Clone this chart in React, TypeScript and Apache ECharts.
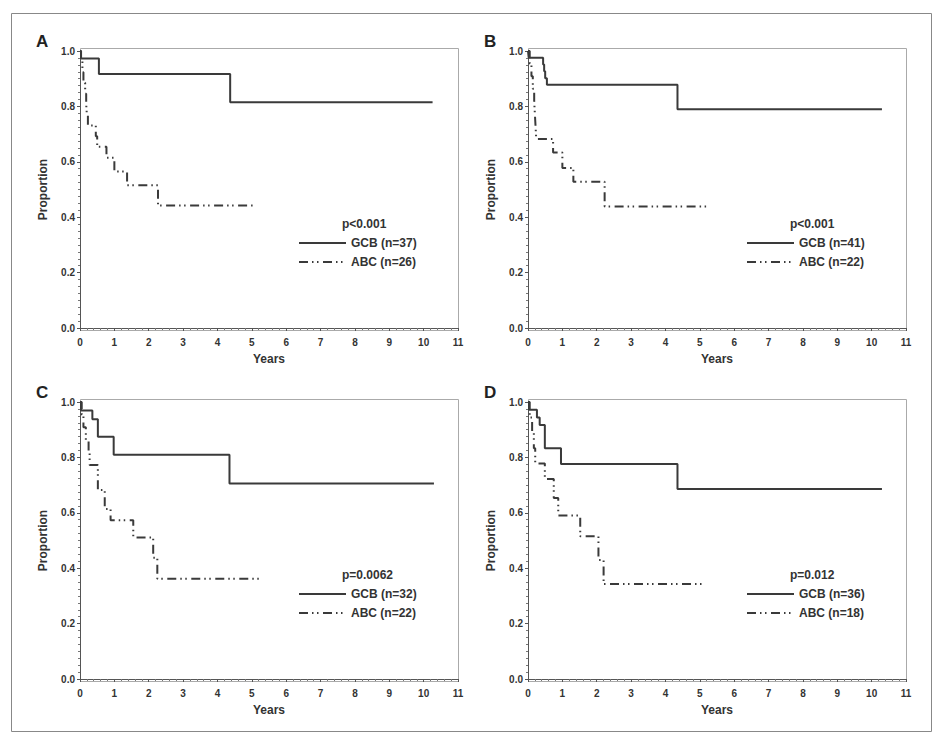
import React, { useEffect, useRef } from "react";
import * as echarts from "echarts";

// ---- data ----
const panelLetters = ["A", "B", "C", "D"];
const pValues = ["p<0.001", "p<0.001", "p=0.0062", "p=0.012"];
const gcbLabels = ["GCB (n=37)", "GCB (n=41)", "GCB (n=32)", "GCB (n=36)"];
const abcLabels = ["ABC (n=26)", "ABC (n=22)", "ABC (n=22)", "ABC (n=18)"];
const xTicks = [0, 1, 2, 3, 4, 5, 6, 7, 8, 9, 10, 11];
const yTicks = [0.0, 0.2, 0.4, 0.6, 0.8, 1.0];

const gcbA_t = [0, 0.03, 0.55, 4.37, 10.26];
const gcbA_s = [1, 0.973, 0.917, 0.815, 0.815];
const abcA_t = [0, 0.03, 0.07, 0.1, 0.15, 0.18, 0.2, 0.23, 0.46, 0.5, 0.77, 1.0, 1.37, 2.27, 5.1];
const abcA_s = [1, 0.962, 0.923, 0.885, 0.846, 0.808, 0.769, 0.731, 0.692, 0.654, 0.615, 0.565, 0.515, 0.442, 0.442];

const gcbB_t = [0, 0.02, 0.44, 0.47, 0.5, 0.55, 4.35, 10.3];
const gcbB_s = [1, 0.976, 0.951, 0.927, 0.902, 0.878, 0.79, 0.79];
const abcB_t = [0, 0.05, 0.1, 0.14, 0.18, 0.2, 0.22, 0.24, 0.73, 1.0, 1.32, 2.23, 5.19];
const abcB_s = [1, 0.955, 0.909, 0.864, 0.818, 0.773, 0.727, 0.682, 0.634, 0.578, 0.528, 0.439, 0.439];

const gcbC_t = [0, 0.03, 0.36, 0.52, 0.98, 4.35, 10.3];
const gcbC_s = [1, 0.969, 0.938, 0.875, 0.81, 0.706, 0.706];
const abcC_t = [0, 0.05, 0.1, 0.17, 0.25, 0.28, 0.52, 0.72, 0.89, 1.55, 2.13, 2.25, 5.22];
const abcC_s = [1, 0.955, 0.909, 0.864, 0.818, 0.773, 0.682, 0.614, 0.573, 0.511, 0.438, 0.362, 0.362];

const gcbD_t = [0, 0.03, 0.26, 0.34, 0.49, 0.96, 4.35, 10.3];
const gcbD_s = [1, 0.972, 0.944, 0.917, 0.833, 0.776, 0.686, 0.686];
const abcD_t = [0, 0.05, 0.12, 0.17, 0.21, 0.49, 0.75, 0.88, 1.52, 2.05, 2.2, 5.06];
const abcD_s = [1, 0.944, 0.889, 0.833, 0.778, 0.722, 0.653, 0.59, 0.515, 0.43, 0.343, 0.343];

const gcbT = [gcbA_t, gcbB_t, gcbC_t, gcbD_t];
const gcbS = [gcbA_s, gcbB_s, gcbC_s, gcbD_s];
const abcT = [abcA_t, abcB_t, abcC_t, abcD_t];
const abcS = [abcA_s, abcB_s, abcC_s, abcD_s];

// ---- layout ----
const FONT = "'Liberation Sans', Arial, sans-serif";
const INK = "#333333";
const CURVE = "#3a3a3a";
const ABC_DASH = [9, 4, 1.5, 3.5, 1.5, 4.5];
const GRIDS = [
  { left: 80, top: 51, width: 378, height: 277 },
  { left: 528, top: 51, width: 378, height: 277 },
  { left: 80, top: 402, width: 378, height: 277 },
  { left: 528, top: 402, width: 378, height: 277 },
];
const AXIS_OFFSET = 3;

function pairs(t: number[], s: number[]) {
  return t.map((v, i) => [v, s[i]]);
}

export default function App() {
  const ref = useRef<HTMLDivElement>(null);
  useEffect(() => {
    document.body.style.margin = "0";
    if (!ref.current) return;
    const chart = echarts.init(ref.current, null, { renderer: "svg" });

    const grid = GRIDS.map((g) => ({ ...g, containLabel: false }));
    const xAxis = GRIDS.map((_, i) => ({
      type: "value",
      gridIndex: i,
      min: xTicks[0],
      max: xTicks[xTicks.length - 1],
      interval: 1,
      offset: AXIS_OFFSET,
      axisLine: { show: true, lineStyle: { color: "#555", width: 1 } },
      axisTick: { show: true, length: 3, lineStyle: { color: "#555" } },
      minorTick: { show: true, splitNumber: 5, length: 2, lineStyle: { color: "#777" } },
      splitLine: { show: false },
      axisLabel: {
        margin: 6,
        color: INK,
        fontFamily: FONT,
        fontWeight: "bold",
        fontSize: 10,
      },
    }));
    const yAxis = GRIDS.map((_, i) => ({
      type: "value",
      gridIndex: i,
      min: yTicks[0],
      max: yTicks[yTicks.length - 1],
      interval: 0.2,
      axisLine: { show: true, lineStyle: { color: "#555", width: 1 } },
      axisTick: { show: true, length: 3, lineStyle: { color: "#555" } },
      minorTick: { show: true, splitNumber: 8, length: 2, lineStyle: { color: "#777" } },
      splitLine: { show: false },
      axisLabel: {
        margin: 5,
        color: INK,
        fontFamily: FONT,
        fontWeight: "bold",
        fontSize: 10,
        formatter: (v: number) => v.toFixed(1),
      },
    }));

    const series: any[] = [];
    for (let i = 0; i < 4; i++) {
      series.push({
        type: "line",
        xAxisIndex: i,
        yAxisIndex: i,
        step: "end",
        showSymbol: false,
        symbol: "none",
        data: pairs(gcbT[i], gcbS[i]),
        lineStyle: { color: CURVE, width: 2 },
        z: 3,
      });
      series.push({
        type: "line",
        xAxisIndex: i,
        yAxisIndex: i,
        step: "end",
        showSymbol: false,
        symbol: "none",
        data: pairs(abcT[i], abcS[i]),
        lineStyle: { color: CURVE, width: 2, type: ABC_DASH },
        z: 3,
      });
    }

    const graphic: any[] = [
      {
        type: "rect",
        z: -10,
        shape: { x: 11.5, y: 13.5, width: 920, height: 718 },
        style: { fill: "none", stroke: "#888", lineWidth: 1 },
      },
    ];
    GRIDS.forEach((g, i) => {
      const dx = g.left - 80;
      const dy = g.top - 51;
      graphic.push({
        type: "rect",
        z: -5,
        shape: { x: g.left + 0.5, y: g.top - 2.5, width: g.width, height: g.height + AXIS_OFFSET + 2 },
        style: { fill: "none", stroke: "#aaa", lineWidth: 1 },
      });
      graphic.push({
        type: "line",
        z: 1,
        shape: { x1: g.left + 0.5, y1: g.top + g.height - 1, x2: g.left + 0.5, y2: g.top + g.height + AXIS_OFFSET },
        style: { stroke: "#555", lineWidth: 1 },
      });
      graphic.push({
        type: "text",
        x: 36 + dx,
        y: 41 + dy,
        style: {
          text: panelLetters[i],
          font: `bold 17px ${FONT}`,
          fill: "#222",
          textAlign: "left",
          textVerticalAlign: "middle",
        },
      });
      graphic.push({
        type: "text",
        x: 43 + dx,
        y: g.top + g.height / 2,
        rotation: Math.PI / 2,
        style: {
          text: "Proportion",
          font: `bold 12px ${FONT}`,
          fill: INK,
          textAlign: "center",
          textVerticalAlign: "middle",
        },
      });
      graphic.push({
        type: "text",
        x: g.left + g.width / 2,
        y: g.top + g.height + 31,
        style: {
          text: "Years",
          font: `bold 12px ${FONT}`,
          fill: INK,
          textAlign: "center",
          textVerticalAlign: "middle",
        },
      });
      graphic.push({
        type: "text",
        x: 342 + dx,
        y: 224 + dy,
        style: {
          text: pValues[i],
          font: `bold 12px ${FONT}`,
          fill: INK,
          textAlign: "left",
          textVerticalAlign: "middle",
        },
      });
      graphic.push({
        type: "line",
        shape: { x1: 299 + dx, y1: 243 + dy, x2: 346 + dx, y2: 243 + dy },
        style: { stroke: CURVE, lineWidth: 2 },
      });
      graphic.push({
        type: "line",
        shape: { x1: 299 + dx, y1: 262 + dy, x2: 346 + dx, y2: 262 + dy },
        style: { stroke: CURVE, lineWidth: 2, lineDash: ABC_DASH },
      });
      graphic.push({
        type: "text",
        x: 351 + dx,
        y: 243 + dy,
        style: {
          text: gcbLabels[i],
          font: `bold 12px ${FONT}`,
          fill: INK,
          textAlign: "left",
          textVerticalAlign: "middle",
        },
      });
      graphic.push({
        type: "text",
        x: 351 + dx,
        y: 262 + dy,
        style: {
          text: abcLabels[i],
          font: `bold 12px ${FONT}`,
          fill: INK,
          textAlign: "left",
          textVerticalAlign: "middle",
        },
      });
    });

    chart.setOption({
      animation: false,
      backgroundColor: "#ffffff",
      grid,
      xAxis,
      yAxis,
      series,
      graphic,
    });
    return () => chart.dispose();
  }, []);
  return <div ref={ref} style={{ width: 941, height: 744 }} />;
}
